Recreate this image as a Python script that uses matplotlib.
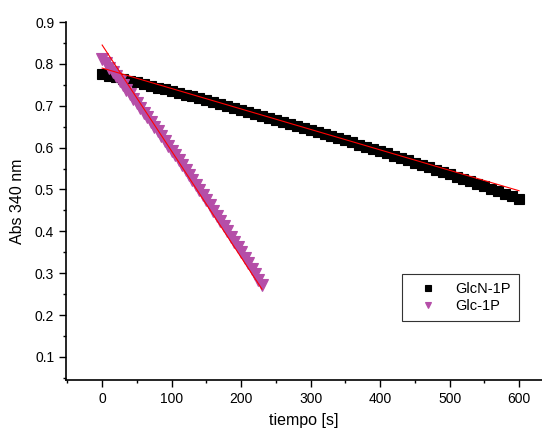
import matplotlib
matplotlib.use('Agg')
import matplotlib.pyplot as plt
from matplotlib.ticker import MultipleLocator

plt.rcParams['font.family'] = ['Liberation Sans', 'DejaVu Sans']

# GlcN-1P, one point every 10 s
t_glcn = list(range(0, 601, 10))
abs_glcn = [0.7760, 0.7721, 0.7681, 0.7641, 0.7600, 0.7560, 0.7519, 0.7477, 0.7435, 0.7393,
            0.7351, 0.7308, 0.7265, 0.7221, 0.7177, 0.7133, 0.7088, 0.7043, 0.6998, 0.6952,
            0.6906, 0.6860, 0.6813, 0.6766, 0.6719, 0.6671, 0.6623, 0.6575, 0.6526, 0.6477,
            0.6427, 0.6377, 0.6327, 0.6277, 0.6226, 0.6175, 0.6123, 0.6071, 0.6019, 0.5966,
            0.5913, 0.5860, 0.5806, 0.5752, 0.5698, 0.5643, 0.5588, 0.5533, 0.5477, 0.5421,
            0.5365, 0.5308, 0.5251, 0.5193, 0.5135, 0.5077, 0.5019, 0.4960, 0.4900, 0.4841,
            0.4780]

# Glc-1P, one point every 5 s
t_glc = list(range(0, 231, 5))
abs_glc = [0.8120, 0.8016, 0.7912, 0.7807, 0.7701, 0.7595, 0.7488, 0.7381, 0.7273, 0.7164,
           0.7055, 0.6945, 0.6834, 0.6723, 0.6612, 0.6499, 0.6387, 0.6273, 0.6159, 0.6044,
           0.5929, 0.5813, 0.5696, 0.5580, 0.5462, 0.5343, 0.5224, 0.5105, 0.4985, 0.4866,
           0.4743, 0.4621, 0.4498, 0.4375, 0.4251, 0.4127, 0.4002, 0.3876, 0.3750, 0.3623,
           0.3496, 0.3368, 0.3239, 0.3110, 0.2980, 0.2850, 0.2720]

# linear fits (end points)
fit_glcn_t = [0, 600]
fit_glcn_y = [0.790, 0.497]
fit_glc_t = [0, 230]
fit_glc_y = [0.845, 0.262]

fig = plt.figure(figsize=(5.42, 4.30), dpi=100)
ax = fig.add_axes([0.1218, 0.1163, 0.8782, 0.8325])

ax.plot(t_glcn, abs_glcn, 's', color='black', ms=7.2, mec='black', mew=0.8, label='GlcN-1P')
ax.plot(t_glc, abs_glc, 'v', color='#b54ea8', ms=8, mec='#b54ea8', mew=0.8, label='Glc-1P')
ax.plot(fit_glcn_t, fit_glcn_y, '-', color='red', lw=0.8)
ax.plot(fit_glc_t, fit_glc_y, '-', color='red', lw=0.8)

ax.set_xlim(-52, 633)
ax.set_ylim(0.045, 0.9)
ax.xaxis.set_major_locator(MultipleLocator(100))
ax.xaxis.set_minor_locator(MultipleLocator(50))
ax.yaxis.set_major_locator(MultipleLocator(0.1))
ax.yaxis.set_minor_locator(MultipleLocator(0.05))
ax.set_yticks([0.1, 0.2, 0.3, 0.4, 0.5, 0.6, 0.7, 0.8, 0.9])
ax.tick_params(which='major', direction='out', length=5, width=1, labelsize=10)
ax.tick_params(which='minor', direction='out', length=2.5, width=1)

ax.spines['top'].set_visible(False)
ax.spines['right'].set_visible(False)
ax.spines['left'].set_linewidth(1.2)
ax.spines['bottom'].set_linewidth(1.2)

ax.set_xlabel('tiempo [s]', fontsize=11.5, labelpad=5)
ax.set_ylabel('Abs 340 nm', fontsize=11.5, labelpad=7)

leg = ax.legend(loc='upper right', bbox_to_anchor=(0.952, 0.296), fontsize=10.5,
                markerscale=0.6, fancybox=False, edgecolor='#333333',
                framealpha=1, handletextpad=0.7, borderpad=0.55, labelspacing=0.2,
                handlelength=2.4, borderaxespad=0)
leg.get_frame().set_linewidth(0.8)

fig.savefig('out.png', dpi=100)
